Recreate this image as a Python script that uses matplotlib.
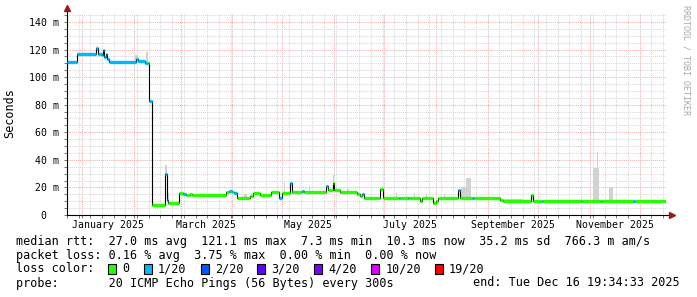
import numpy as np
import pandas as pd
import matplotlib
matplotlib.use('Agg')
import matplotlib.pyplot as plt
import matplotlib.dates as mdates
import matplotlib.transforms as mtransforms
from matplotlib.patches import Rectangle

# median rtt steps (start time of each step), value in ms, loss bin (0 -> 0/20, 1 -> 1/20)
seg_start = ['2024-12-23 00:00', '2024-12-28 20:00', '2025-01-09 09:00', '2025-01-10 07:00',
             '2025-01-12 16:00', '2025-01-13 14:00', '2025-01-14 04:00', '2025-01-15 02:00',
             '2025-01-16 06:00', '2025-01-17 11:00', '2025-02-02 14:00', '2025-02-03 19:00',
             '2025-02-08 00:00', '2025-02-09 17:00', '2025-02-10 10:00', '2025-02-11 15:00',
             '2025-02-19 10:00', '2025-02-20 17:00', '2025-02-21 12:00', '2025-02-28 02:00',
             '2025-03-02 12:00', '2025-03-04 14:00', '2025-03-06 16:00', '2025-03-07 21:00',
             '2025-03-28 07:00', '2025-03-30 02:00', '2025-04-01 03:00', '2025-04-02 08:00',
             '2025-04-04 03:00', '2025-04-11 08:00', '2025-04-12 05:00', '2025-04-13 10:00',
             '2025-04-17 14:00', '2025-04-24 12:00', '2025-04-29 07:00', '2025-04-30 19:00',
             '2025-05-05 07:00', '2025-05-06 12:00', '2025-05-12 12:00', '2025-05-13 17:00',
             '2025-05-26 21:00', '2025-05-28 02:00', '2025-05-31 08:00', '2025-06-01 05:00',
             '2025-06-04 19:00', '2025-06-15 00:00', '2025-06-16 12:00', '2025-06-18 00:00',
             '2025-06-18 22:00', '2025-06-28 19:00', '2025-06-30 14:00', '2025-07-09 14:00',
             '2025-07-10 12:00', '2025-07-15 00:00', '2025-07-15 22:00', '2025-07-22 05:00',
             '2025-07-23 17:00', '2025-07-30 12:00', '2025-08-01 07:00', '2025-08-02 05:00',
             '2025-08-14 05:00', '2025-08-15 17:00', '2025-08-22 14:00', '2025-08-23 19:00',
             '2025-09-06 14:00', '2025-09-08 10:00', '2025-09-09 21:00', '2025-09-26 22:00',
             '2025-09-28 10:00', '2025-10-03 12:00', '2025-10-04 10:00', '2025-10-26 22:00',
             '2025-10-27 19:00', '2025-11-07 14:00', '2025-11-08 12:00', '2025-11-27 07:00',
             '2025-11-28 05:00']
median_ms = [111, 116.5, 121, 117, 116, 120, 114.5, 116.5, 113, 111, 113, 111.5,
             110.5, 110, 83, 7.3, 30, 11, 8.5, 16, 15.5, 14.5, 15.5, 14.5,
             17, 17.5, 17, 16, 12.5, 13.5, 14, 16.3, 14.5, 16.8, 12, 16,
             23.5, 16.5, 17.5, 16.5, 21, 18, 23, 18.3, 17, 15.5, 13.5, 15.5,
             12, 18.5, 12.3, 12.3, 12.3, 12.3, 12.3, 10.3, 12.3, 8.5, 10.3, 12.5,
             18, 12.5, 12.5, 12.5, 12, 11, 9.8, 14.5, 10.2, 10, 10.2, 10.2,
             10.2, 10.2, 10.2, 10.2, 10.2]
loss_bin = [1, 1, 1, 1, 1, 1, 1, 1, 1, 1, 1, 1,
            1, 0, 1, 0, 1, 1, 0, 0, 1, 0, 0, 0,
            0, 1, 0, 1, 0, 0, 0, 0, 0, 0, 1, 0,
            1, 0, 1, 0, 1, 0, 0, 0, 0, 0, 0, 1,
            0, 0, 0, 1, 0, 1, 0, 0, 0, 0, 0, 0,
            1, 0, 1, 0, 0, 0, 0, 0, 0, 1, 0, 1,
            0, 1, 0, 1, 0]
end_time = '2025-12-16 19:34'
start_time = '2024-12-23 00:00'

# smoke (ping spread) visible above the median
smoke_start = ['2024-12-28 20:00', '2025-02-01 12:00', '2025-02-08 12:00', '2025-02-19 10:00',
               '2025-02-20 17:00', '2025-04-08 00:00', '2025-05-02 00:00', '2025-05-17 00:00',
               '2025-05-31 08:00', '2025-06-09 00:00', '2025-07-08 00:00', '2025-07-19 00:00',
               '2025-07-26 00:00', '2025-08-06 00:00', '2025-08-16 00:00', '2025-08-19 00:00',
               '2025-09-10 00:00', '2025-10-27 00:00', '2025-11-03 08:00', '2025-11-05 12:00',
               '2025-11-12 22:00']
smoke_end = ['2025-01-09 00:00', '2025-02-03 12:00', '2025-02-09 17:00', '2025-02-20 17:00',
             '2025-02-22 00:00', '2025-04-10 00:00', '2025-05-02 16:00', '2025-05-17 16:00',
             '2025-06-01 05:00', '2025-06-09 16:00', '2025-07-08 16:00', '2025-07-19 16:00',
             '2025-07-26 16:00', '2025-08-06 16:00', '2025-08-19 00:00', '2025-08-22 00:00',
             '2025-09-22 00:00', '2025-10-27 16:00', '2025-11-06 22:00', '2025-11-06 06:00',
             '2025-11-15 07:00']
smoke_top = [117.5, 116, 118, 36, 16, 15, 25, 21, 29, 19, 16, 16,
             15, 15, 20, 27, 11.5, 12, 34, 46, 20.5]

loss_colors = ['#26ff00', '#00b8ff', '#0059ff', '#5e00ff', '#7e00ff', '#dd00ff', '#ff0000']
loss_labels = ['0', '1/20', '2/20', '3/20', '4/20', '10/20', '19/20']
y_ticks = [0, 20, 40, 60, 80, 100, 120, 140]
y_labels = ['0  ', '20 m', '40 m', '60 m', '80 m', '100 m', '120 m', '140 m']
month_labels = ['January 2025', 'March 2025', 'May 2025', 'July 2025',
                'September 2025', 'November 2025']
month_label_at = ['2025-01-16 12:00', '2025-03-16 12:00', '2025-05-16 12:00',
                  '2025-07-16 12:00', '2025-09-16 00:00', '2025-11-16 00:00']

MONO = 'DejaVu Sans Mono'
FS = 8.5     # legend text
FS_AX = 7.1  # axis labels
W, H = 697, 297
L, R, B, T = 67, 666, 215, 13

fig = plt.figure(figsize=(W / 100, H / 100), dpi=100)
fig.patch.set_facecolor('white')
ax = fig.add_axes([L / W, 1 - B / H, (R - L) / W, (B - T) / H])
ax.set_facecolor('white')

t = mdates.date2num(pd.to_datetime(seg_start))
t_end = mdates.date2num(pd.Timestamp(end_time))
tt = np.append(t, t_end)
med = np.array(median_ms)

# smoke
s0 = mdates.date2num(pd.to_datetime(smoke_start))
s1 = mdates.date2num(pd.to_datetime(smoke_end))
base = med[np.searchsorted(t, s0, side='right') - 1]
ax.bar(s0, np.array(smoke_top) - base, bottom=base, width=s1 - s0, align='edge',
       color='#d2d2d2', linewidth=0, zorder=2)

# median line + loss colours
ax.step(tt, np.append(med, med[-1]), where='post', color='black', lw=0.8, zorder=3)
for i in range(len(med)):
    ax.hlines(med[i], tt[i], tt[i + 1], colors=loss_colors[loss_bin[i]], lw=2.4, zorder=4)

ax.set_xlim(mdates.date2num(pd.Timestamp(start_time)), t_end)
ax.set_ylim(0, (B - T) / 1.3786)

ax.xaxis.set_major_locator(mdates.MonthLocator())
ax.xaxis.set_minor_locator(mdates.WeekdayLocator(byweekday=mdates.MO))
ax.xaxis.set_major_formatter(plt.NullFormatter())
ax.set_yticks(y_ticks)
ax.set_yticklabels(y_labels, family=MONO, fontsize=FS_AX)
ax.set_yticks(np.arange(0, 146, 5), minor=True)

dots = (0, (1, 1))
ax.grid(which='minor', color='#d8d8d8', ls=dots, lw=0.75, zorder=0)
ax.grid(which='major', color='#f0b0b0', ls=dots, lw=0.75, zorder=1)
ax.set_axisbelow(True)
ax.tick_params(which='both', direction='out', length=2, width=0.6, color='#606060', pad=2)
ax.tick_params(axis='y', which='major', pad=4)

for s in ['top', 'right']:
    ax.spines[s].set_visible(False)
for s in ['left', 'bottom']:
    ax.spines[s].set_color('black')
    ax.spines[s].set_linewidth(0.8)

# axis extensions and arrows
ax.plot([0, 0], [1, 1 + 4 / (B - T)], transform=ax.transAxes, clip_on=False, color='black', lw=0.8)
ax.plot([1, 1 + 3 / (R - L)], [0, 0], transform=ax.transAxes, clip_on=False, color='black', lw=0.8)
ax.plot(0, 1 + 5 / (B - T), marker='^', ms=5, color='#9a1a1a', transform=ax.transAxes, clip_on=False)
ax.plot(1 + 6 / (R - L), 0, marker='>', ms=5, color='#9a1a1a', transform=ax.transAxes, clip_on=False)

# month labels
trans = mtransforms.blended_transform_factory(ax.transData, fig.transFigure)
for lab, at in zip(month_labels, month_label_at):
    ax.text(mdates.date2num(pd.Timestamp(at)), 1 - 225 / H, lab, transform=trans,
            ha='center', va='center', family=MONO, fontsize=FS_AX)

fig.text(10 / W, 1 - 113 / H, 'Seconds', rotation=90, ha='center', va='center',
         family=MONO, fontsize=FS)
fig.text(686 / W, 1 - 60 / H, 'RRDTOOL / TOBI OETIKER', rotation=-90, ha='center', va='center',
         family=MONO, fontsize=6, color='#a8a8a8')

# legend block
CW = 7.1
x0 = 16
rows = [241, 255, 269, 283]
fig.text(x0 / W, 1 - rows[0] / H,
         'median rtt:  27.0 ms avg  121.1 ms max  7.3 ms min  10.3 ms now  35.2 ms sd  766.3 m am/s',
         ha='left', va='center', family=MONO, fontsize=FS)
fig.text(x0 / W, 1 - rows[1] / H,
         'packet loss: 0.16 % avg  3.75 % max  0.00 % min  0.00 % now',
         ha='left', va='center', family=MONO, fontsize=FS)
fig.text(x0 / W, 1 - rows[2] / H, 'loss color:', ha='left', va='center', family=MONO, fontsize=FS)
col = 13
for c, lab in zip(loss_colors, loss_labels):
    px = x0 + col * CW
    fig.patches.append(Rectangle((px / W, 1 - (rows[2] + 5) / H), 8 / W, 10 / H,
                                 transform=fig.transFigure, facecolor=c, edgecolor='black', lw=0.8))
    fig.text((px + 2 * CW) / W, 1 - rows[2] / H, lab, ha='left', va='center', family=MONO, fontsize=FS)
    col += 2 + len(lab) + 2
fig.text(x0 / W, 1 - rows[3] / H, 'probe:       20 ICMP Echo Pings (56 Bytes) every 300s',
         ha='left', va='center', family=MONO, fontsize=FS)
fig.text(680 / W, 1 - rows[3] / H, 'end: Tue Dec 16 19:34:33 2025',
         ha='right', va='center', family=MONO, fontsize=FS)

fig.savefig('out.png', dpi=100, facecolor='white')
